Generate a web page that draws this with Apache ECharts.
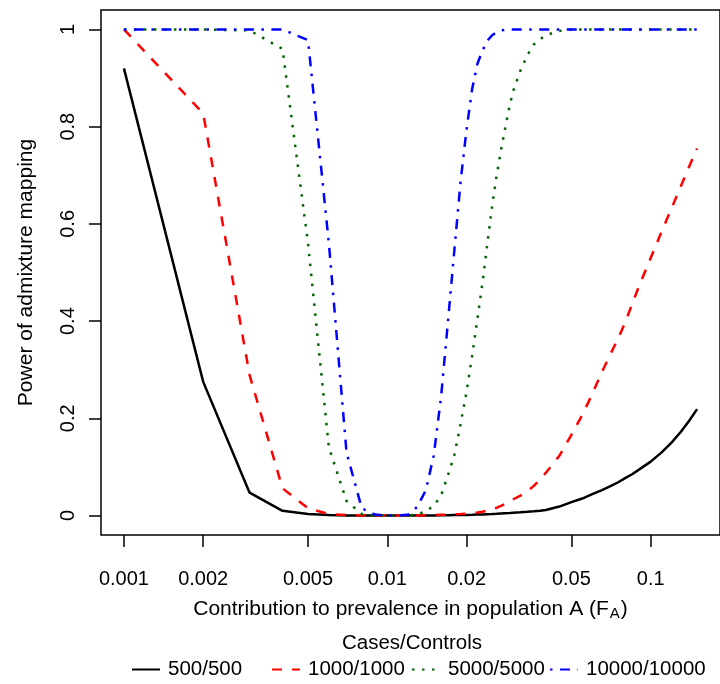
<!DOCTYPE html>
<html>
<head>
<meta charset="utf-8">
<script src="https://cdn.jsdelivr.net/npm/echarts@6/dist/echarts.min.js"></script>
<style>
  html, body { margin: 0; padding: 0; background: #fff; }
  #chart { width: 720px; height: 684px; }
</style>
</head>
<body>
<div id="chart"></div>
<script>
// contribution to prevalence in population A (F_A)
const fa = [0.001, 0.002, 0.003, 0.004, 0.005, 0.006, 0.007, 0.008, 0.009, 0.010,
    0.011, 0.012, 0.013, 0.014, 0.015, 0.016, 0.017, 0.018, 0.019, 0.020,
    0.021, 0.022, 0.023, 0.024, 0.025, 0.026, 0.027, 0.028, 0.029, 0.030,
    0.032, 0.034, 0.036, 0.038, 0.040,
    0.045, 0.05, 0.055, 0.06, 0.065, 0.07, 0.075, 0.08, 0.085, 0.09,
    0.10, 0.11, 0.12, 0.13, 0.14, 0.15];

const power500 = [0.92, 0.275, 0.047, 0.0097, 0.003, 0.001, 0, 0, 0, 0,
    0, 0, 0, 0, 0, 0.0005, 0.0005, 0.001, 0.001, 0.001,
    0.0015, 0.002, 0.002, 0.0025, 0.003, 0.0035, 0.004, 0.0045, 0.005, 0.006,
    0.0068, 0.0078, 0.0089, 0.0101, 0.0115,
    0.0185, 0.0275, 0.035, 0.044, 0.052, 0.06, 0.068, 0.077, 0.085, 0.094,
    0.111, 0.13, 0.15, 0.172, 0.195, 0.219];

const power1000 = [1.0, 0.827, 0.289, 0.056, 0.015, 0.003, 0.001, 0, 0, 0,
    0, 0, 0, 0.0005, 0.001, 0.0015, 0.002, 0.0025, 0.003, 0.004,
    0.005, 0.0065, 0.008, 0.01, 0.013, 0.016, 0.02, 0.024, 0.028, 0.033,
    0.041, 0.05, 0.061, 0.074, 0.088,
    0.123, 0.166, 0.207, 0.25, 0.293, 0.33, 0.363, 0.397, 0.435, 0.47,
    0.53, 0.584, 0.632, 0.677, 0.718, 0.755];

const power5000 = [1, 1, 0.998, 0.96, 0.56, 0.14, 0.03, 0.003, 0, 0,
    0, 0, 0.002, 0.009, 0.02, 0.041, 0.083, 0.126, 0.19, 0.255,
    0.33, 0.406, 0.48, 0.561, 0.637, 0.699, 0.751, 0.796, 0.838, 0.872,
    0.915, 0.947, 0.969, 0.98, 0.988,
    0.997, 1, 1, 1, 1, 1, 1, 1, 1, 1,
    1, 1, 1, 1, 1, 1];

const power10000 = [1, 1, 1, 1, 0.978, 0.56, 0.13, 0.015, 0.002, 0,
    0, 0.002, 0.018, 0.052, 0.123, 0.244, 0.40, 0.55, 0.69, 0.795,
    0.878, 0.93, 0.957, 0.977, 0.988, 0.994, 0.998, 0.999, 1, 1,
    1, 1, 1, 1, 1,
    1, 1, 1, 1, 1, 1, 1, 1, 1, 1,
    1, 1, 1, 1, 1, 1];

const seriesNames = ['500/500', '1000/1000', '5000/5000', '10000/10000'];
const xTickValues = [0.001, 0.002, 0.005, 0.01, 0.02, 0.05, 0.1];
const xTickLabels = ['0.001', '0.002', '0.005', '0.01', '0.02', '0.05', '0.1'];
const yTickValues = [0, 0.2, 0.4, 0.6, 0.8, 1];
const yTickLabels = ['0', '0.2', '0.4', '0.6', '0.8', '1'];

const font = '"Liberation Sans", Arial, sans-serif';
const chart = echarts.init(document.getElementById('chart'));

// log10 x scale, R-style 4% padding on both axes
const xLo = Math.log10(fa[0]);
const xHi = Math.log10(fa[fa.length - 1]);
const xPad = 0.04 * (xHi - xLo);

function toPairs(vals) {
    return fa.map((f, i) => [Math.log10(f), vals[i]]);
}

function lineSeries(name, vals, color, dash) {
    return {
        name: name,
        type: 'line',
        data: toPairs(vals),
        symbol: 'none',
        showSymbol: false,
        smooth: false,
        lineStyle: { color: color, width: 2.5, type: dash },
        itemStyle: { color: color },
        emphasis: { disabled: true }
    };
}

// one legend per entry so the spacing is even, like R's horiz legend
const legendLefts = [131, 271, 411, 549];
const legends = seriesNames.map((name, i) => ({
    data: [name],
    left: legendLefts[i],
    top: 659,
    padding: 0,
    itemWidth: 28,
    itemHeight: 10,
    itemStyle: { opacity: 0 },
    selectedMode: false,
    textStyle: { fontFamily: font, fontSize: 20.5, color: '#000', padding: [0, 0, 0, 3] }
}));

const option = {
    animation: false,
    title: {
        text: 'Cases/Controls',
        left: 412,
        top: 633,
        padding: 0,
        textAlign: 'center',
        textStyle: { fontFamily: font, fontSize: 20.5, fontWeight: 'normal', color: '#000' }
    },
    legend: legends,
    grid: {
        left: 101,
        top: 10,
        width: 626,
        height: 525,
        show: true,
        borderColor: '#000',
        borderWidth: 1.5,
        containLabel: false
    },
    xAxis: {
        type: 'value',
        min: xLo - xPad,
        max: xHi + xPad,
        name: '{t|Contribution to prevalence in population A (F}{s|A}{t|)}',
        nameLocation: 'middle',
        nameGap: 62,
        nameTextStyle: {
            rich: {
                t: { fontFamily: font, fontSize: 21, color: '#000' },
                s: { fontFamily: font, fontSize: 15, color: '#000', padding: [9, 1, 0, 1] }
            }
        },
        axisLine: { show: false, onZero: false },
        splitLine: { show: false },
        axisTick: {
            show: true,
            length: 12,
            lineStyle: { color: '#000', width: 1.5 },
            customValues: xTickValues.map(v => Math.log10(v))
        },
        axisLabel: {
            margin: 34,
            fontFamily: font,
            fontSize: 20,
            color: '#000',
            customValues: xTickValues.map(v => Math.log10(v)),
            formatter: function (v) {
                const i = xTickValues.findIndex(t => Math.abs(Math.log10(t) - v) < 1e-6);
                return i >= 0 ? xTickLabels[i] : '';
            }
        }
    },
    yAxis: {
        type: 'value',
        min: -0.04,
        max: 1.04,
        name: 'Power of admixture mapping',
        nameLocation: 'middle',
        nameGap: 64,
        nameTextStyle: { fontFamily: font, fontSize: 21, color: '#000' },
        axisLine: { show: false, onZero: false },
        splitLine: { show: false },
        axisTick: {
            show: true,
            length: 12,
            lineStyle: { color: '#000', width: 1.5 },
            customValues: yTickValues
        },
        axisLabel: {
            rotate: 90,
            margin: 23,
            fontFamily: font,
            fontSize: 20,
            color: '#000',
            customValues: yTickValues,
            formatter: function (v) {
                const i = yTickValues.findIndex(t => Math.abs(t - v) < 1e-9);
                return i >= 0 ? yTickLabels[i] : '';
            }
        }
    },
    series: [
        lineSeries(seriesNames[0], power500, '#000000', 'solid'),
        lineSeries(seriesNames[1], power1000, '#ff0000', [10, 10]),
        lineSeries(seriesNames[2], power5000, '#006400', [2.5, 7.5]),
        lineSeries(seriesNames[3], power10000, '#0000ff', [2.5, 7.5, 10, 7.5])
    ]
};

chart.setOption(option);
</script>
</body>
</html>
